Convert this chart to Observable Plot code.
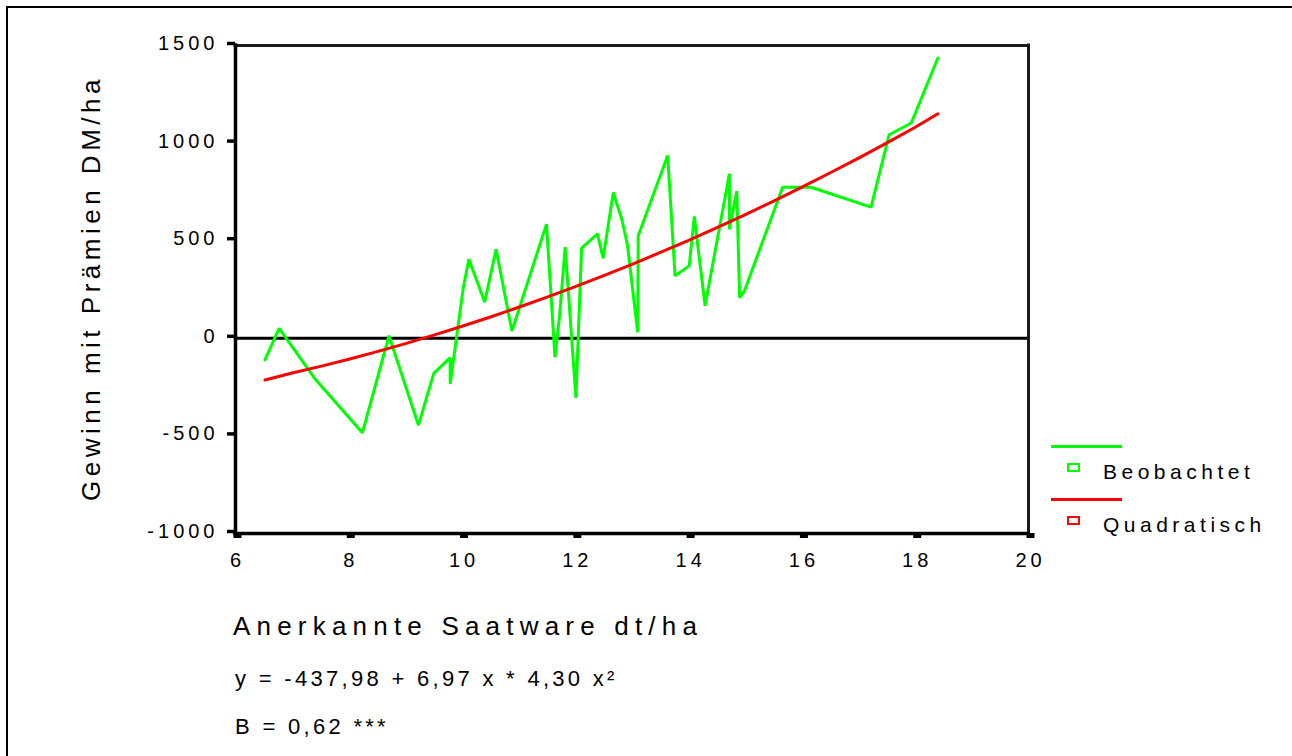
<!DOCTYPE html>
<html>
<head>
<meta charset="utf-8">
<script src="https://cdn.jsdelivr.net/npm/d3@7"></script>
<script src="https://cdn.jsdelivr.net/npm/@observablehq/plot@0.6"></script>
<style>
  html, body { margin: 0; padding: 0; background: #fff; }
  #wrap { position: relative; width: 1292px; height: 756px; overflow: hidden;
          font-family: "Liberation Sans", Arial, sans-serif; color: #000; background: #fff; }
  #border { position: absolute; left: 6px; top: 6px; width: 1400px; height: 900px;
            border-left: 2px solid #000; border-top: 2px solid #000; }
  #chart { position: absolute; left: 0; top: 0; }
  .t { position: absolute; white-space: nowrap; line-height: 1; }
  #ytitle { left: 91px; top: 288px; font-size: 26px; letter-spacing: 4.5px;
            transform: translate(-50%, -50%) rotate(-90deg); transform-origin: center center; }
  #xtitle { left: 233px; top: 613px; font-size: 26px; letter-spacing: 6.2px; }
  #eq { left: 235px; top: 668px; font-size: 22px; letter-spacing: 3.3px; }
  #r2 { left: 235px; top: 716px; font-size: 22px; letter-spacing: 3.3px; }
  .lgline { position: absolute; height: 3px; }
  .lgbox { position: absolute; width: 9px; height: 5px; border: 2px solid; }
  .lgtext { font-size: 21px; letter-spacing: 4.5px; }
</style>
</head>
<body>
<div id="wrap">
  <div id="border"></div>
  <div id="chart"></div>
  <div id="ytitle" class="t"></div>
  <div id="xtitle" class="t"></div>
  <div id="eq" class="t"></div>
  <div id="r2" class="t"></div>
  <div id="legend"></div>
</div>
<script>
// ---- data ----
const xTitle = "Anerkannte Saatware dt/ha";
const yTitle = "Gewinn mit Prämien DM/ha";
const equationText = "y = -437,98 + 6,97 x * 4,30 x²";
const statText = "B = 0,62 ***";
const seriesNames = ["Beobachtet", "Quadratisch"];
const seriesColors = ["#00ff00", "#ff0000"];

const xTicks = [6, 8, 10, 12, 14, 16, 18, 20];
const yTicks = [-1000, -500, 0, 500, 1000, 1500];
const xDomain = [6, 20];
const yDomain = [-1000, 1500];

// observed (Beobachtet), in drawing order
const obsX = [6.52, 6.77, 7.41, 8.24, 8.71, 9.23, 9.50, 9.79, 9.79, 10.02,
              10.12, 10.40, 10.60, 10.88, 11.49, 11.64, 11.72, 11.82, 12.01, 12.11,
              12.39, 12.49, 12.67, 12.82, 12.92, 13.10, 13.11, 13.63, 13.76, 14.01,
              14.10, 14.29, 14.72, 14.72, 14.85, 14.90, 14.98, 15.66, 16.16, 17.22,
              17.54, 17.93, 18.40];
const obsY = [-111, 51, -210, -484, 13, -445, -180, -99, -234, 256,
              405, 185, 456, 37, 585, -97, 111, 467, -305, 462,
              535, 410, 747, 610, 478, 31, 525, 936, 321, 371,
              624, 167, 843, 559, 755, 208, 239, 774, 774, 672,
              1043, 1103, 1436];

// quadratic fit (Quadratisch)
const fitX = [6.52, 7, 7.5, 8, 8.5, 9, 9.5, 10, 10.5, 11, 11.5, 12, 12.5,
              13, 13.5, 14, 14.5, 15, 15.5, 16, 16.5, 17, 17.5, 18, 18.4];
const fitY = [-214, -178, -144, -107, -68, -27, 16, 62, 109, 159, 211, 265, 321,
              379, 440, 502, 567, 634, 703, 774, 848, 923, 1001, 1081, 1150];

// ---- build ----
const obs = obsX.map((x, i) => ({x, y: obsY[i]}));
const fit = fitX.map((x, i) => ({x, y: fitY[i]}));
const fmt = d => String(d);

const chart = Plot.plot({
  width: 1292,
  height: 600,
  marginLeft: 235,
  marginRight: 264,
  marginTop: 45,
  marginBottom: 67,
  style: {fontFamily: "'Liberation Sans', Arial, sans-serif", fontSize: "20px",
          letterSpacing: "4px", color: "#000", background: "transparent", overflow: "visible"},
  x: {domain: xDomain},
  y: {domain: yDomain},
  marks: [
    Plot.axisX(xTicks, {tickSize: 5, tickPadding: 14, strokeWidth: 8, stroke: "#000",
                        tickFormat: fmt, label: null, fontSize: 20, dx: 2}),
    Plot.axisY(yTicks, {tickSize: 8, tickPadding: 9, strokeWidth: 3.5, stroke: "#000",
                        tickFormat: fmt, label: null, fontSize: 20, dy: -2}),
    Plot.ruleY([0], {stroke: "#000", strokeWidth: 3}),
    Plot.line(obs, {x: "x", y: "y", stroke: seriesColors[0], strokeWidth: 3, strokeLinejoin: "miter"}),
    Plot.line(fit, {x: "x", y: "y", stroke: seriesColors[1], strokeWidth: 3}),
    Plot.ruleX([xDomain[1]], {stroke: "#1a1a1a", strokeWidth: 3, strokeLinecap: "square"}),
    Plot.ruleY([yDomain[1]], {stroke: "#1a1a1a", strokeWidth: 3, strokeLinecap: "square"}),
    Plot.ruleX([xDomain[0]], {stroke: "#000", strokeWidth: 3.5, strokeLinecap: "square"}),
    Plot.ruleY([yDomain[0]], {stroke: "#000", strokeWidth: 3.5, strokeLinecap: "square"})
  ]
});
document.getElementById("chart").appendChild(chart);

document.getElementById("ytitle").textContent = yTitle;
document.getElementById("xtitle").textContent = xTitle;
document.getElementById("eq").textContent = equationText;
document.getElementById("r2").textContent = statText;

// legend
const legend = document.getElementById("legend");
seriesNames.forEach((name, i) => {
  const off = i * 53;
  const ln = document.createElement("div");
  ln.className = "lgline";
  ln.style.cssText = `left:1051px;top:${445 + off}px;width:71px;background:${seriesColors[i]};`;
  const bx = document.createElement("div");
  bx.className = "lgbox";
  bx.style.cssText = `left:1067px;top:${463 + off}px;border-color:${seriesColors[i]};`;
  const tx = document.createElement("div");
  tx.className = "t lgtext";
  tx.style.cssText = `left:1103px;top:${461 + off}px;`;
  tx.textContent = name;
  legend.append(ln, bx, tx);
});
</script>
</body>
</html>
